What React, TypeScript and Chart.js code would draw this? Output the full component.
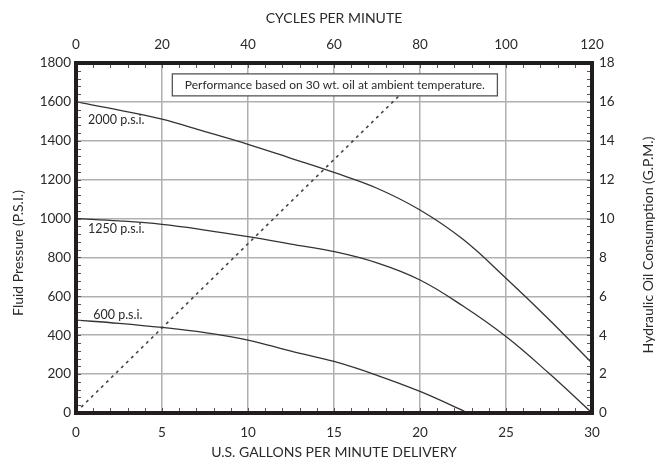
import React, { useEffect, useRef } from "react";
import { Chart, registerables } from "chart.js";

Chart.register(...registerables);

// U.S. gallons per minute delivery (x)
const gpm2000 = [0, 2.5, 5, 7.5, 10, 12.5, 15, 17.5, 20, 22.5, 25, 27.5, 30];
const psi2000 = [1600, 1558, 1511, 1447, 1382, 1310, 1237, 1156, 1044, 893, 693, 481, 257];

const gpm1250 = [0, 2.5, 5, 7.5, 10, 12.5, 15, 17.5, 20, 22.5, 25, 27.5, 30];
const psi1250 = [1000, 988, 970, 941, 907, 869, 830, 772, 684, 550, 393, 204, 0];

const gpm600 = [0, 2.5, 5, 7.5, 10, 12.5, 15, 17.5, 20, 22.5, 22.75];
const psi600 = [478, 461, 440, 413, 375, 318, 265, 194, 111, 12, 0];

// hydraulic oil consumption (G.P.M., right axis)
const oilGpmX = [0.3, 19.0];
const oilConsumption = [0.3, 16.5];

const curveLabels = ["2000 p.s.i.", "1250 p.s.i.", "600 p.s.i."];
const noteText = "Performance based on 30 wt. oil at ambient temperature.";
const leftTitle = "Fluid Pressure (P.S.I.)";
const rightTitle = "Hydraulic Oil Consumption (G.P.M.)";

const FONT = "Lato, 'Open Sans', sans-serif";
const INK = "#2a2a2a";

function pts(xs: number[], ys: number[]) {
  return xs.map((x, i) => ({ x, y: ys[i] }));
}

const framePlugin = {
  id: "framePlugin",
  afterDatasetsDraw(chart: any) {
    const { ctx, chartArea: a, scales } = chart;
    const xs = scales.x;
    const ys = scales.y;
    ctx.save();
    // minor ticks (inward)
    ctx.strokeStyle = "#555";
    ctx.lineWidth = 1;
    const L = 5;
    for (let g = 1; g < 30; g++) {
      const px = Math.round(xs.getPixelForValue(g)) + 0.5;
      ctx.beginPath();
      ctx.moveTo(px, a.bottom);
      ctx.lineTo(px, a.bottom - L);
      ctx.moveTo(px, a.top);
      ctx.lineTo(px, a.top + L);
      ctx.stroke();
    }
    for (let p = 40; p < 1800; p += 40) {
      const py = Math.round(ys.getPixelForValue(p)) + 0.5;
      ctx.beginPath();
      ctx.moveTo(a.left, py);
      ctx.lineTo(a.left + L, py);
      ctx.moveTo(a.right, py);
      ctx.lineTo(a.right - L, py);
      ctx.stroke();
    }
    // frame
    ctx.strokeStyle = "#231c1c";
    ctx.lineWidth = 4;
    ctx.strokeRect(a.left, a.top, a.right - a.left, a.bottom - a.top);

    // curve labels
    ctx.fillStyle = INK;
    ctx.font = `12.5px ${FONT}`;
    ctx.textBaseline = "middle";
    ctx.textAlign = "left";
    const lab = [
      [0.7, 1507],
      [0.7, 946],
      [1.0, 504],
    ];
    curveLabels.forEach((t, i) => {
      ctx.fillText(t, xs.getPixelForValue(lab[i][0]), ys.getPixelForValue(lab[i][1]));
    });

    // note box
    const bx1 = xs.getPixelForValue(5.6);
    const bx2 = xs.getPixelForValue(24.5);
    const by1 = ys.getPixelForValue(1744);
    const by2 = ys.getPixelForValue(1631);
    ctx.fillStyle = "#fff";
    ctx.fillRect(bx1, by1, bx2 - bx1, by2 - by1);
    ctx.strokeStyle = "#555";
    ctx.lineWidth = 1.3;
    ctx.strokeRect(bx1, by1, bx2 - bx1, by2 - by1);
    ctx.fillStyle = INK;
    ctx.font = `12px ${FONT}`;
    ctx.textAlign = "center";
    ctx.fillText(noteText, (bx1 + bx2) / 2, (by1 + by2) / 2 + 0.5);

    // axis titles (both read bottom-to-top)
    ctx.font = `14px ${FONT}`;
    ctx.save();
    ctx.translate(18, 253);
    ctx.rotate(-Math.PI / 2);
    ctx.fillText(leftTitle, 0, 0);
    ctx.restore();
    ctx.save();
    ctx.translate(648, 245);
    ctx.rotate(-Math.PI / 2);
    ctx.fillText(rightTitle, 0, 0);
    ctx.restore();
    ctx.restore();
  },
};

export default function App() {
  const ref = useRef<HTMLCanvasElement>(null);
  useEffect(() => {
    if (!ref.current) return;
    const lineStyle = {
      borderColor: "#333",
      borderWidth: 1.3,
      pointRadius: 0,
      tension: 0.4,
      fill: false,
    };
    const tickFont = { family: FONT, size: 13.5 };
    const plain = (v: any) => String(v);
    const chart = new Chart(ref.current, {
      type: "line",
      data: {
        datasets: [
          { ...lineStyle, label: curveLabels[0], data: pts(gpm2000, psi2000), xAxisID: "x", yAxisID: "y" },
          { ...lineStyle, label: curveLabels[1], data: pts(gpm1250, psi1250), xAxisID: "x", yAxisID: "y" },
          { ...lineStyle, label: curveLabels[2], data: pts(gpm600, psi600), xAxisID: "x", yAxisID: "y" },
          {
            label: "Hydraulic Oil Consumption",
            data: pts(oilGpmX, oilConsumption),
            xAxisID: "x",
            yAxisID: "y2",
            borderColor: "#444",
            borderWidth: 1.6,
            borderDash: [3, 4],
            pointRadius: 0,
            tension: 0,
            fill: false,
          },
        ],
      },
      options: {
        responsive: false,
        animation: false,
        devicePixelRatio: 1,
        layout: { padding: 0 },
        plugins: { legend: { display: false }, tooltip: { enabled: false } },
        scales: {
          x: {
            type: "linear",
            position: "bottom",
            min: 0,
            max: 30,
            ticks: { stepSize: 5, color: INK, font: tickFont, padding: 12, callback: plain },
            grid: { color: "#b0b0b0", lineWidth: 1.5, drawTicks: false },
            border: { display: false },
            title: {
              display: true,
              text: "U.S. GALLONS PER MINUTE DELIVERY",
              color: INK,
              font: { family: FONT, size: 14 },
              padding: { top: 0, bottom: 3.5 },
            },
            afterFit: (s: any) => { s.height = 51; },
          },
          x2: {
            type: "linear",
            position: "top",
            min: 0,
            max: 120,
            ticks: { stepSize: 20, color: INK, font: tickFont, padding: 10, callback: plain },
            grid: { display: false, drawTicks: false },
            border: { display: false },
            title: {
              display: true,
              text: "CYCLES PER MINUTE",
              color: INK,
              font: { family: FONT, size: 14 },
              padding: { top: 9.6, bottom: 0 },
            },
            afterFit: (s: any) => { s.height = 63; },
          },
          y: {
            type: "linear",
            position: "left",
            min: 0,
            max: 1800,
            ticks: { stepSize: 200, color: INK, font: tickFont, padding: 5, callback: plain },
            grid: { color: "#b0b0b0", lineWidth: 1.5, drawTicks: false },
            border: { display: false },
            afterFit: (s: any) => { s.width = 76; },
          },
          y2: {
            type: "linear",
            position: "right",
            min: 0,
            max: 18,
            ticks: { stepSize: 2, color: INK, font: tickFont, padding: 7, callback: plain },
            grid: { display: false, drawTicks: false },
            border: { display: false },
            afterFit: (s: any) => { s.width = 76; },
          },
        },
      },
      plugins: [framePlugin],
    });
    return () => chart.destroy();
  }, []);
  return (
    <div style={{ position: "absolute", left: 0, top: 0, width: 668, height: 464, background: "#fff" }}>
      <canvas ref={ref} width={668} height={464} />
    </div>
  );
}
